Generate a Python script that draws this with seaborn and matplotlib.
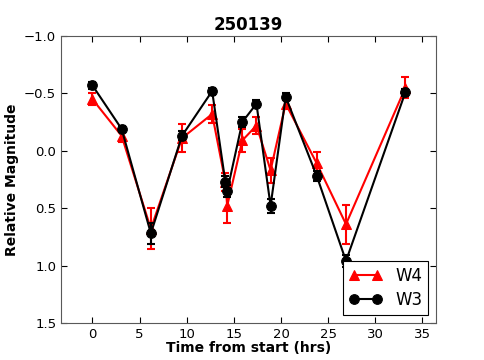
import numpy as np
import pandas as pd
import seaborn as sns
import matplotlib
matplotlib.use("Agg")
import matplotlib.pyplot as plt

# time from start (hrs) and relative magnitudes
hrs = [0.0, 3.1, 6.2, 9.5, 12.7, 14.1, 14.3, 15.9, 17.4, 18.9, 20.5, 23.8, 26.9, 33.2]
w4_mag = [-0.45, -0.13, 0.68, -0.11, -0.32, 0.27, 0.48, -0.09, -0.22, 0.17, -0.41, 0.11, 0.64, -0.55]
w4_err = [0.05, 0.05, 0.18, 0.12, 0.08, 0.08, 0.15, 0.10, 0.07, 0.11, 0.05, 0.10, 0.17, 0.09]
w3_mag = [-0.57, -0.19, 0.72, -0.13, -0.52, 0.27, 0.35, -0.25, -0.41, 0.48, -0.47, 0.22, 0.96, -0.51]
w3_err = [0.03, 0.03, 0.09, 0.04, 0.03, 0.05, 0.05, 0.04, 0.03, 0.06, 0.03, 0.04, 0.05, 0.03]

df = pd.DataFrame({"hrs": hrs, "W4": w4_mag, "W4_err": w4_err,
                   "W3": w3_mag, "W3_err": w3_err})

sns.set_style("ticks", rc={
    "axes.edgecolor": "black",
    "axes.labelcolor": "black",
    "text.color": "black",
    "xtick.color": "black",
    "ytick.color": "black",
    "xtick.direction": "in",
    "ytick.direction": "in",
    "xtick.top": True,
    "ytick.right": True,
    "axes.linewidth": 1.0,
})
plt.rcParams["font.family"] = ["DejaVu Sans"]

fig = plt.figure(figsize=(4.85, 3.6), dpi=100)
ax = fig.add_axes([0.126, 0.103, 0.774, 0.797])

#red W4 first, black W3 on top
for band, col, mk in [("W4", "red", "^"), ("W3", "black", "o")]:
    sns.lineplot(data=df, x="hrs", y=band, color=col, marker=mk, markersize=7,
                 markeredgecolor=col, linewidth=1.5, label=band, ax=ax)
    ax.errorbar(df["hrs"], df[band], yerr=df[band + "_err"], fmt="none",
                ecolor=col, elinewidth=1.5, capsize=3, capthick=1.5)

ax.set_xlim(-3.32, 36.5)
ax.set_ylim(1.5, -1.0)
ax.set_xticks(np.arange(0, 36, 5))
ax.set_yticks(np.arange(-1.0, 1.51, 0.5))
ax.tick_params(labelsize=9.5, length=4, width=0.8, colors="black")
for sp in ax.spines.values():
    sp.set_edgecolor("0.35")

ax.set_title("250139", fontsize=12, fontweight="bold", pad=4)
ax.set_xlabel("Time from start (hrs)", fontsize=10, fontweight="bold", labelpad=0)
ax.set_ylabel("Relative Magnitude", fontsize=10, fontweight="bold", labelpad=4)

leg = ax.legend(loc="lower right", numpoints=2, fontsize=12, fancybox=False,
                framealpha=1, edgecolor="black", borderaxespad=0.5,
                handlelength=2.0, labelspacing=0.35, borderpad=0.35)
leg.get_frame().set_linewidth(0.8)

fig.savefig("out.png", dpi=100)
